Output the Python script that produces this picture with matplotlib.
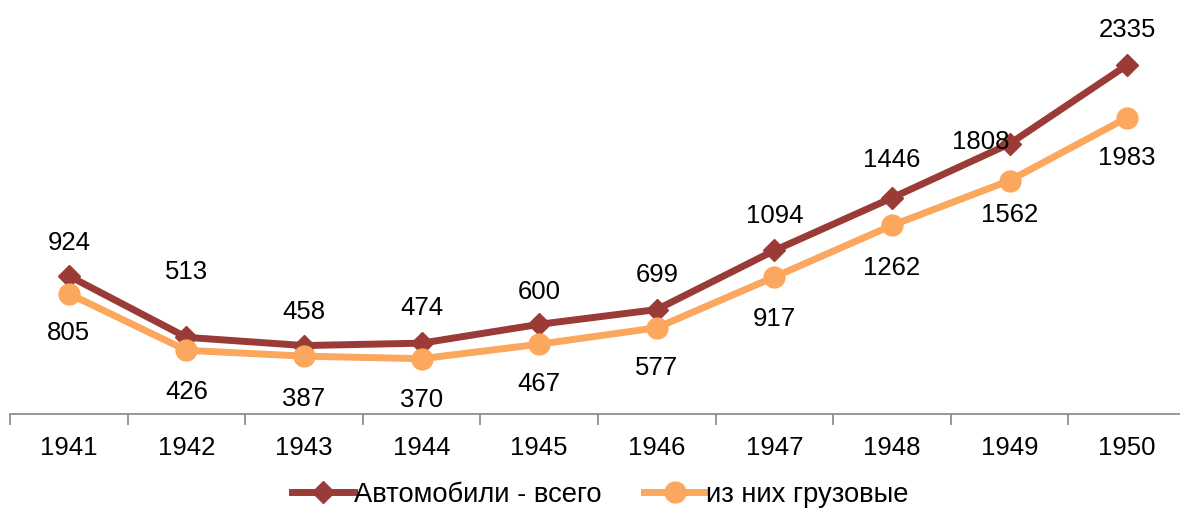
import matplotlib.pyplot as plt
import numpy as np

# data
years = ["1941", "1942", "1943", "1944", "1945", "1946", "1947", "1948", "1949", "1950"]
total = [924, 513, 458, 474, 600, 699, 1094, 1446, 1808, 2335]
trucks = [805, 426, 387, 370, 467, 577, 917, 1262, 1562, 1983]

plt.rcParams['font.family'] = ['Liberation Sans', 'DejaVu Sans']

fig = plt.figure(figsize=(11.8, 5.12), dpi=100)
ax = fig.add_axes([10 / 1180, 98 / 512, 1176 / 1180, 414 / 512])

x = np.arange(len(years))
c_total = "#9A3B38"
c_trucks = "#FBA75E"

ax.plot(x, total, color=c_total, lw=5, marker="D", ms=11, label="Автомобили - всего", zorder=3)
ax.plot(x, trucks, color=c_trucks, lw=5, marker="o", ms=15, label="из них грузовые", zorder=4)

# data labels (offsets in points)
off_total = [(0, 24), (0, 47), (0, 24), (0, 25), (0, 23), (0, 25), (0, 25), (0, 27), (-21, 1), (0, 25)]
for i, v in enumerate(total):
    ax.annotate(str(v), (x[i], v), xytext=off_total[i], textcoords="offset points",
                ha="center", va="center", fontsize=18.5)
off_trucks = [(0, -28), (0, -30), (0, -31), (0, -30), (0, -29), (0, -29), (0, -30), (0, -31), (0, -25), (0, -29)]
for i, v in enumerate(trucks):
    ax.annotate(str(v), (x[i], v), xytext=off_trucks[i], textcoords="offset points",
                ha="center", va="center", fontsize=18.5)

ax.set_xlim(-0.5, len(years) - 0.5)
ax.set_ylim(0, 2770)
ax.set_xticks(x)
ax.set_xticklabels(years, fontsize=18.5)
ax.set_xticks(np.arange(-0.5, len(years)), minor=True)
ax.tick_params(axis="x", which="major", length=0, pad=16)
ax.tick_params(axis="x", which="minor", length=8, color="#868686", width=1.2)
ax.set_yticks([])
for s in ["top", "right", "left"]:
    ax.spines[s].set_visible(False)
ax.spines["bottom"].set_color("#868686")
ax.spines["bottom"].set_linewidth(1.2)

fig.legend(loc="lower center", bbox_to_anchor=(0.509, -0.04), ncol=2, frameon=False,
           fontsize=19.7, handlelength=2.25, handletextpad=0.02, columnspacing=1.55)

fig.savefig("out.png", dpi=100)
